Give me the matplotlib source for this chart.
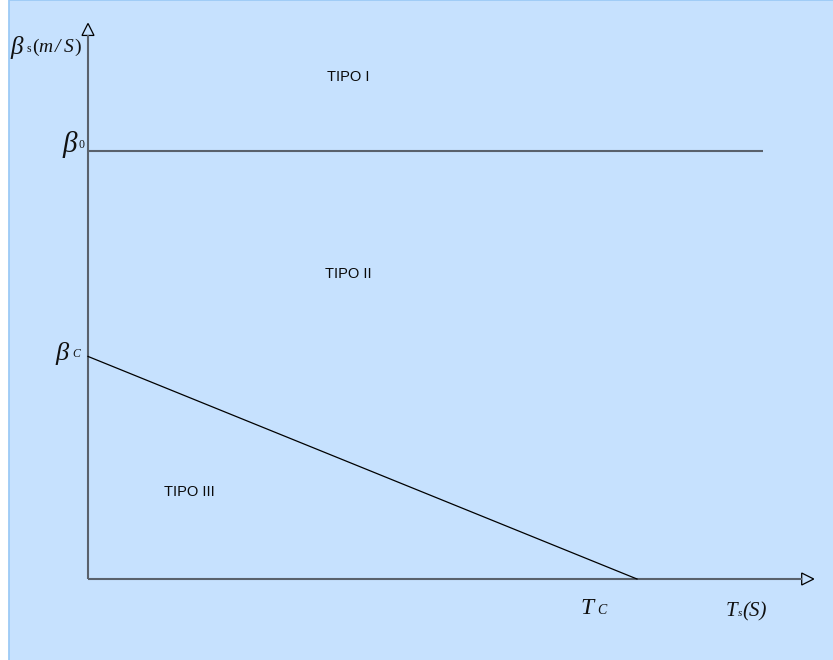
import numpy as np
import matplotlib
matplotlib.use("Agg")
import matplotlib.pyplot as plt
from matplotlib.patches import Polygon, Rectangle

# critical values on the diagram (arbitrary units)
beta_0 = 1.0      # upper limit, TIPO I / TIPO II boundary
beta_c = 0.52     # intercept of the TIPO II / TIPO III boundary
t_c = 1.0         # period where the lower boundary reaches zero
t_end = 1.23      # right end of the beta_0 line
x_axis_end = 1.30
y_axis_end = 1.27

region_names = ["TIPO I", "TIPO II", "TIPO III"]
region_x = [0.474, 0.474, 0.184]
region_y = [1.173, 0.713, 0.203]

bg = "#c6e1fe"
edge = "#9dcaf6"
axis_grey = "#59616c"
serif = "Liberation Serif"

W, H = 833, 660
fig = plt.figure(figsize=(W / 100, H / 100), dpi=100)
fig.patch.set_facecolor("white")

ax = fig.add_axes([0, 0, 1, 1])
ax.set_facecolor("none")
ax.axis("off")
ax.add_patch(Rectangle((8.5 / W, -0.1), 1.2, 1.1 - 0.5 / H, transform=fig.transFigure,
                       facecolor=bg, edgecolor=edge, linewidth=1.3, zorder=-10,
                       clip_on=False))

# pixel scale of one data unit
sx, sy = 549.0, 428.0
ox, oy = 88.0, 579.0
ax.set_xlim(-ox / sx, (W - ox) / sx)
ax.set_ylim(-(H - oy) / sy, oy / sy)

# axes
ax.plot([0, 0], [0, y_axis_end], color=axis_grey, lw=1.5, solid_capstyle="butt")
ax.plot([0, x_axis_end], [0, 0], color=axis_grey, lw=1.5, solid_capstyle="butt")

# open arrow heads
hx, hy = 12 / sx, 12 / sy
wx, wy = 6 / sx, 6 / sy
ax.add_patch(Polygon([[-wx, y_axis_end], [wx, y_axis_end], [0, y_axis_end + hy]],
                     closed=True, facecolor=bg, edgecolor="black", lw=0.9))
ax.add_patch(Polygon([[x_axis_end, -wy], [x_axis_end, wy], [x_axis_end + hx, 0]],
                     closed=True, facecolor=bg, edgecolor="black", lw=0.9))

# boundaries between regions
ax.plot([0, t_end], [beta_0, beta_0], color=axis_grey, lw=1.5, solid_capstyle="butt")
ax.plot([0, t_c], [beta_c, 0], color="black", lw=0.9)

for name, x, y in zip(region_names, region_x, region_y):
    ax.text(x, y, name, ha="center", va="center", fontsize=10.5,
            family="Liberation Sans", color="#0a0a0a")


def piece(xy, off, s, size, style="italic", ha="left"):
    ax.annotate(s, xy=xy, xycoords="data", xytext=off, textcoords="offset pixels",
                ha=ha, va="center", fontsize=size, family=serif, style=style,
                color="#111111")


# beta_0 label
piece((0, beta_0), (-11, 7), "β", 21, ha="right")
piece((0, beta_0), (-9, 6), "0", 8.5, style="normal")

# beta_c label
piece((0, beta_c), (-19, 3), "β", 19, ha="right")
piece((0, beta_c), (-16, 2), "C", 8.5)

# y axis label
piece((0, y_axis_end), (-78, -12), "β", 18)
piece((0, y_axis_end), (-61, -14), "s", 8.5, style="normal")
piece((0, y_axis_end), (-56, -12), "(", 14, style="normal")
piece((0, y_axis_end), (-50, -12), "m", 14)
piece((0, y_axis_end), (-33, -12), "/", 14)
piece((0, y_axis_end), (-24, -12), "S", 14)
piece((0, y_axis_end), (-14, -12), ")", 14, style="normal")

# T_c label
piece((t_c, 0), (-57, -30), "T", 17)
piece((t_c, 0), (-40, -31), "C", 10)

# x axis label
piece((x_axis_end, 0), (-76, -33), "T", 15)
piece((x_axis_end, 0), (-64, -35), "s", 8)
piece((x_axis_end, 0), (-59, -33), "(S)", 15)

fig.savefig("out.png", dpi=100, facecolor=fig.get_facecolor())
